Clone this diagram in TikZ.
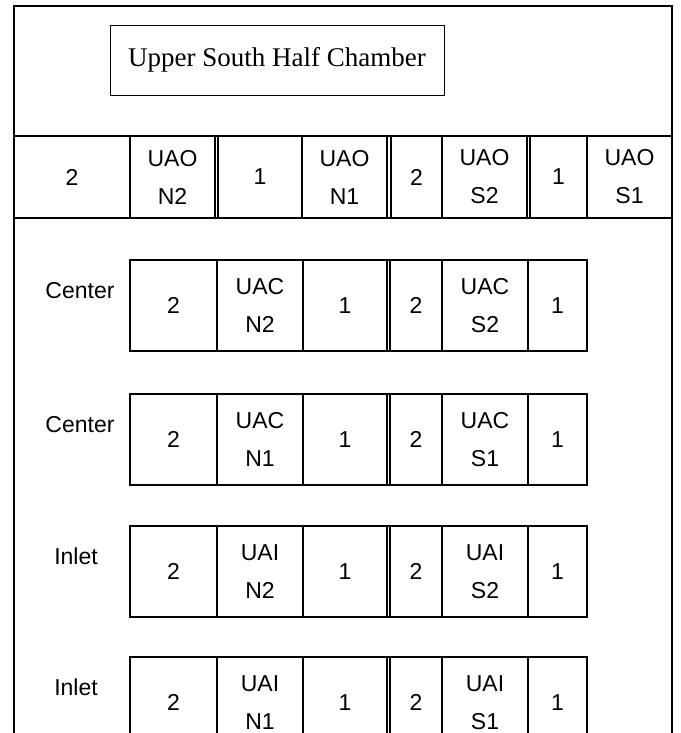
\documentclass[tikz,border=0pt]{standalone}
\usepackage{fontspec}
\setmainfont{Liberation Sans}
\newfontfamily\titlefont{Liberation Serif}
\newcommand\mkcell[7]{\node[#6, minimum width={(#3)-(#2)}, minimum height={(#5)-(#4)}] (#1) at ({((#2)+(#3))/2},{((#4)+(#5))/2}) {#7};}
\begin{document}
\begin{tikzpicture}[x=1pt,y=-1pt,
  cellbase/.style={draw, inner sep=0pt, outer sep=0pt, align=center, font=\fontsize{23}{38}\selectfont},
  numcell/.style={cellbase, line width=1.7pt},
  idcell/.style={cellbase, line width=2.5pt},
  frameline/.style={line width=2.8pt},
  rowline/.style={line width=2.4pt},
  gapline/.style={line width=1.7pt},
  lbl/.style={font=\fontsize{23}{27}\selectfont, inner sep=0pt},
  titlebox/.style={draw, line width=0.8pt, inner sep=0pt, font=\titlefont\fontsize{27}{32}\selectfont},
]
\useasboundingbox (0,0) rectangle (680,733);
\fill[white] (0,0) rectangle (680,733);
% frame
\coordinate (fbl) at (14,740);
\coordinate (ftl) at (14,6);
\coordinate (ftr) at (672,6);
\coordinate (fbr) at (672,740);
\draw[frameline] (fbl) -- (ftl) -- (ftr) -- (fbr);
% title
\node[titlebox, minimum width=334, minimum height=70] (title) at (277,60) {Upper South Half Chamber};
% top row lines
\coordinate (hl1) at (14,136);
\coordinate (hr1) at (672,136);
\coordinate (hl2) at (14,218);
\coordinate (hr2) at (672,218);
\draw[rowline] (hl1) -- (hr1);
\draw[rowline] (hl2) -- (hr2);
% top row
\mkcell{t1}{14}{130}{136}{218}{numcell}{2}
\mkcell{t2}{130}{215}{136}{218}{idcell}{UAO\\N2}
\mkcell{t3}{218}{302}{136}{218}{numcell}{1}
\mkcell{t4}{302}{387}{136}{218}{idcell}{UAO\\N1}
\mkcell{t5}{391}{442}{136}{218}{numcell}{2}
\mkcell{t6}{442}{527}{136}{218}{idcell}{UAO\\S2}
\mkcell{t7}{530}{587}{136}{218}{numcell}{1}
\mkcell{t8}{587}{672}{136}{218}{idcell}{UAO\\S1}
% rows
\foreach \r/\top/\lab/\lx in {a/260/Center/80, b/394/Center/80, c/526/Inlet/76, d/657/Inlet/76}{
  \pgfmathsetmacro{\bot}{\top+91}
  \pgfmathsetmacro{\mid}{\top+45.5-15}
  \node[lbl] (\r lab) at (\lx,\mid) {\lab};
  \mkcell{\r1}{130}{217}{\top}{\bot}{numcell}{2}
  \mkcell{\r3}{303}{387}{\top}{\bot}{numcell}{1}
  \mkcell{\r4}{390}{442}{\top}{\bot}{numcell}{2}
  \mkcell{\r6}{528}{587}{\top}{\bot}{numcell}{1}
  \draw[gapline] (\r3.north east) -- (\r4.north west);
  \draw[gapline] (\r3.south east) -- (\r4.south west);
}
\mkcell{a2}{217}{303}{260}{351}{idcell}{UAC\\N2}
\mkcell{a5}{442}{528}{260}{351}{idcell}{UAC\\S2}
\mkcell{b2}{217}{303}{394}{485}{idcell}{UAC\\N1}
\mkcell{b5}{442}{528}{394}{485}{idcell}{UAC\\S1}
\mkcell{c2}{217}{303}{526}{617}{idcell}{UAI\\N2}
\mkcell{c5}{442}{528}{526}{617}{idcell}{UAI\\S2}
\mkcell{d2}{217}{303}{657}{748}{idcell}{UAI\\N1}
\mkcell{d5}{442}{528}{657}{748}{idcell}{UAI\\S1}
\end{tikzpicture}
\end{document}
